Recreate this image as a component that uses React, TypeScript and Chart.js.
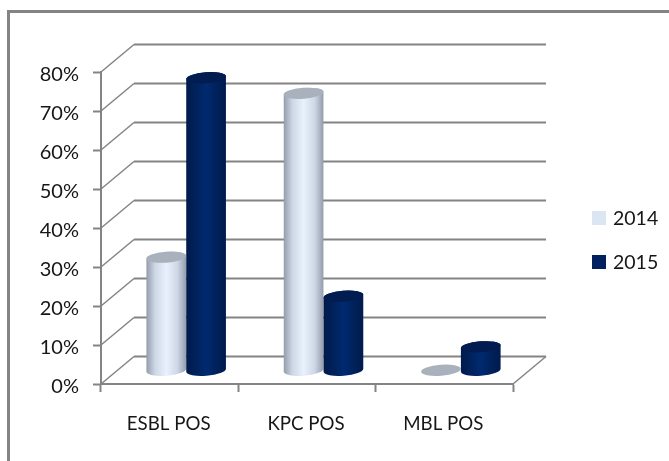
import React, { useEffect, useRef } from "react";
import { Chart, registerables } from "chart.js";

Chart.register(...registerables);

const categories = ["ESBL POS", "KPC POS", "MBL POS"];
const series2014 = [29, 71, 0];
const series2015 = [75, 19, 6];
const seriesNames = ["2014", "2015"];
const tickStep = 10;
const axisMax = 80;

const FONT = "Lato, Carlito, sans-serif";
const GRID = "#848484";
const TEXT = "#161616";
const DEPTH_X = 33;
const DEPTH_Y = 27.5;
const ELLIPSE_TILT = -0.08;

type Palette = { edge: string; mid: string; center: string; cap: string; swatch: string };
const palettes: Palette[] = [
  { edge: "#939cab", mid: "#cdd7e6", center: "#e9f1fd", cap: "#a9b1bd", swatch: "#dce6f2" },
  { edge: "#001a4d", mid: "#002159", center: "#002a70", cap: "#001c50", swatch: "#002060" },
];

// Floor, back wall and left wall lines of the 3D box, placed from the value scale.
const wallsPlugin = {
  id: "walls",
  beforeDatasetsDraw(chart: any) {
    const { ctx, chartArea, scales } = chart;
    const { left, right, bottom } = chartArea;
    ctx.save();
    ctx.strokeStyle = GRID;
    for (let v = 0; v <= axisMax; v += tickStep) {
      const y = scales.y.getPixelForValue(v);
      ctx.lineWidth = 2;
      ctx.beginPath();
      ctx.moveTo(left + DEPTH_X, y - DEPTH_Y);
      ctx.lineTo(right + DEPTH_X, y - DEPTH_Y);
      ctx.stroke();
      ctx.lineWidth = 1.5;
      ctx.beginPath();
      ctx.moveTo(left, y);
      ctx.lineTo(left + DEPTH_X, y - DEPTH_Y);
      ctx.stroke();
    }
    ctx.lineWidth = 1.5;
    ctx.beginPath();
    ctx.moveTo(right, bottom);
    ctx.lineTo(right + DEPTH_X, bottom - DEPTH_Y);
    ctx.stroke();
    ctx.restore();
  },
};

// Each bar element is painted as a cylinder standing halfway into the box depth.
const cylindersPlugin = {
  id: "cylinders",
  afterDatasetsDraw(chart: any) {
    const { ctx, scales } = chart;
    const baseY = scales.y.getPixelForValue(0) - DEPTH_Y / 2;
    const ry = 5.5;
    categories.forEach((_, index) => {
      chart.data.datasets.forEach((_ds: any, dsIndex: number) => {
        const bar = chart.getDatasetMeta(dsIndex).data[index];
        const p = palettes[dsIndex];
        const cx = bar.x + DEPTH_X / 2;
        const rx = bar.width / 2;
        const topY = bar.y - DEPTH_Y / 2;
        ctx.save();
        if (chart.data.datasets[dsIndex].data[index] > 0) {
          const g = ctx.createLinearGradient(cx - rx, 0, cx + rx, 0);
          g.addColorStop(0, p.edge);
          g.addColorStop(0.22, p.mid);
          g.addColorStop(0.5, p.center);
          g.addColorStop(0.78, p.mid);
          g.addColorStop(1, p.edge);
          ctx.fillStyle = g;
          ctx.beginPath();
          ctx.ellipse(cx, topY, rx, ry, ELLIPSE_TILT, Math.PI, 0, false);
          ctx.ellipse(cx, baseY, rx, ry, ELLIPSE_TILT, 0, Math.PI, false);
          ctx.closePath();
          ctx.fill();
        }
        ctx.fillStyle = p.cap;
        ctx.beginPath();
        ctx.ellipse(cx, topY, rx, ry, ELLIPSE_TILT, 0, Math.PI * 2);
        ctx.fill();
        ctx.restore();
      });
    });
  },
};

// Outer frame (top and left edges only) and the series key on the right.
const framePlugin = {
  id: "frame",
  beforeDraw(chart: any) {
    const { ctx, width, height } = chart;
    ctx.save();
    ctx.fillStyle = "#ffffff";
    ctx.fillRect(0, 0, width, height);
    ctx.strokeStyle = GRID;
    ctx.lineWidth = 3;
    ctx.beginPath();
    ctx.moveTo(8.5, height);
    ctx.lineTo(8.5, 11.5);
    ctx.lineTo(width, 11.5);
    ctx.stroke();
    ctx.restore();
  },
  afterDraw(chart: any) {
    const { ctx } = chart;
    ctx.save();
    ctx.font = `19.5px ${FONT}`;
    ctx.textBaseline = "middle";
    chart.data.datasets.forEach((ds: any, i: number) => {
      const y = 218 + i * 44;
      ctx.fillStyle = palettes[i].swatch;
      ctx.fillRect(592, y - 7, 14, 14);
      ctx.fillStyle = TEXT;
      ctx.fillText(ds.label, 613, y + 1);
    });
    ctx.restore();
  },
};

export default function App() {
  const ref = useRef<HTMLCanvasElement>(null);
  useEffect(() => {
    const chart = new Chart(ref.current!, {
      type: "bar",
      data: {
        labels: categories,
        datasets: [
          { label: seriesNames[0], data: series2014, backgroundColor: "transparent" },
          { label: seriesNames[1], data: series2015, backgroundColor: "transparent" },
        ],
      },
      options: {
        responsive: false,
        animation: false,
        layout: { padding: { top: 72, right: 156, left: 0, bottom: 0 } },
        plugins: { legend: { display: false }, tooltip: { enabled: false } },
        datasets: { bar: { categoryPercentage: 0.58, barPercentage: 1 } },
        scales: {
          x: {
            afterFit: (s: any) => { s.height = 77; },
            grid: { drawOnChartArea: false, tickLength: 8, tickColor: GRID, tickWidth: 2 },
            border: { color: GRID, width: 2 },
            ticks: { font: { family: FONT, size: 18.7 }, color: TEXT, padding: 21, maxRotation: 0, labelOffset: -1 },
          },
          y: {
            min: 0,
            max: axisMax,
            afterFit: (s: any) => { s.width = 101; },
            grid: { drawOnChartArea: false, tickLength: 8, tickColor: GRID, tickWidth: 2 },
            border: { color: GRID, width: 2 },
            ticks: {
              stepSize: tickStep,
              font: { family: FONT, size: 20 },
              color: TEXT,
              padding: 14,
              labelOffset: 3,
              callback: (v: any) => `${v}%`,
            },
          },
        },
      },
      plugins: [framePlugin, wallsPlugin, cylindersPlugin],
    } as any);
    return () => chart.destroy();
  }, []);
  return (
    <div style={{ position: "absolute", left: 0, top: 0, width: 669, height: 461 }}>
      <canvas ref={ref} width={669} height={461} style={{ display: "block" }} />
    </div>
  );
}
